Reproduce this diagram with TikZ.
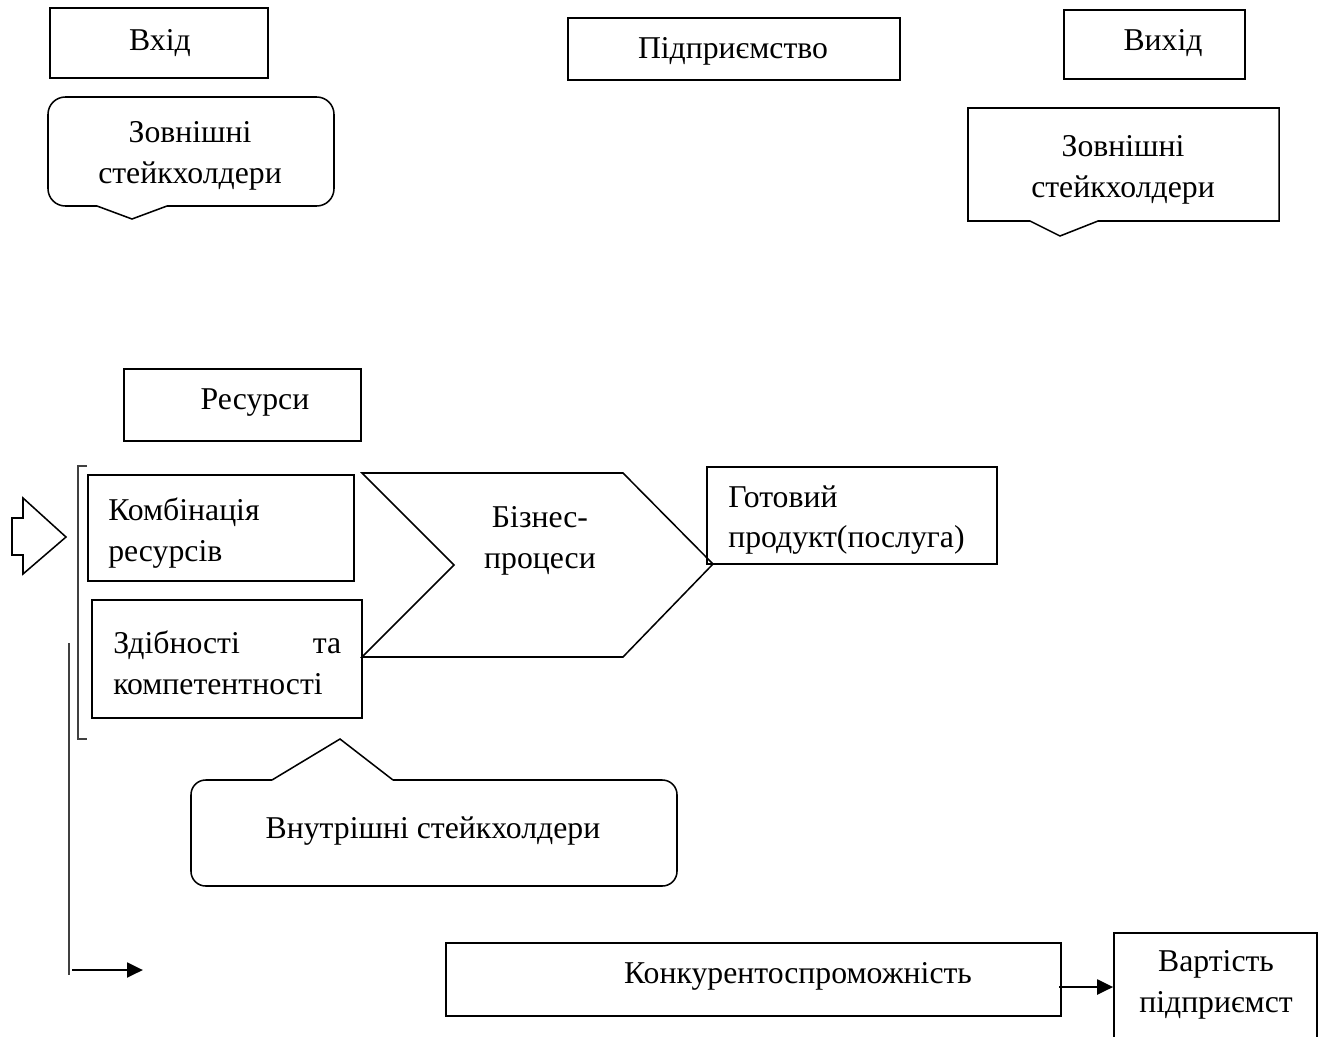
\documentclass[tikz,border=0pt]{standalone}
\usepackage{fontspec}
\setmainfont{Liberation Serif}
\usetikzlibrary{arrows.meta}
\begin{document}
\begin{tikzpicture}[x=0.75pt,y=-0.75pt,
  box/.style={draw,line width=1.15pt,inner sep=0pt},
  wh/.style 2 args={minimum width=#1*0.75pt,minimum height=#2*0.75pt},
  lbl/.style={font=\fontsize{23.8}{30.5}\selectfont,inner sep=0pt,align=center,yshift=-2.2pt},
  shp/.style={draw,line width=1.15pt,line join=miter},
  thinl/.style={draw,black!75,line width=0.8pt},
  arr/.style={line width=2.2pt,-{Triangle[length=12pt,width=11pt]}}]
\useasboundingbox (0,0) rectangle (1324,1036);

% top boxes
\node[box,wh={218}{70}] (vkhid) at (159,43) {};
\node[lbl] (vkhidt) at (160,40) {Вхід};
\node[box,wh={332}{62}] (pidpr) at (734,49) {};
\node[lbl] (pidprt) at (733,48) {Підприємство};
\node[box,wh={181}{69}] (vykhid) at (1154.5,44.5) {};
\node[lbl] (vykhidt) at (1163,40) {Вихід};

% left external stakeholders callout
\draw[shp,rounded corners=13pt] (167,206) -- (334,206) -- (334,97) -- (48,97) -- (48,206) -- (97,206);
\draw[shp] (97,206) -- (132,219) -- (167,206);
\node[lbl] (zovnl) at (190,153) {Зовнішні\\стейкхолдери};

% right external stakeholders callout
\draw[shp] (1030,221) -- (968,221) -- (968,108) -- (1279,108) -- (1279,221) -- (1098,221) -- (1060,236) -- cycle;
\node[lbl] (zovnr) at (1123,167) {Зовнішні\\стейкхолдери};

% resources
\node[box,wh={237}{72}] (res) at (242.5,405) {};
\node[lbl] (rest) at (255,400) {Ресурси};

% block arrow
\draw[shp,fill=white] (12,518) -- (23,518) -- (23,498) -- (66,537) -- (23,574) -- (23,555) -- (12,555) -- cycle;

% bracket
\draw[thinl] (87,466) -- (78,466) -- (78,739) -- (87,739);

% combination / abilities
\node[box,wh={266}{106}] (komb) at (221,528) {};
\node[lbl,anchor=west,align=left] (kombt) at (108,530) {Комбінація\\ресурсів};
\node[box,wh={270}{118}] (zdib) at (227,659) {};
\node[lbl,anchor=west,align=left,text width=171pt] (zdibt) at (113,660) {Здібності\hfill та\\компетентності};

% business processes chevron
\draw[shp] (362,473) -- (623,473) -- (713,564) -- (623,657) -- (362,657) -- (454,565) -- cycle;
\node[lbl] (biz) at (540,538) {Бізнес-\\процеси};

% finished product
\node[box,wh={290}{97}] (prod) at (852,515.5) {};
\node[lbl,anchor=west,align=left] (prodt) at (728,517) {Готовий\\продукт(послуга)};

% internal stakeholders callout
\draw[shp,rounded corners=11pt] (393,780) -- (677,780) -- (677,886) -- (191,886) -- (191,780) -- (272,780);
\draw[shp] (272,780) -- (340,739) -- (393,780);
\node[lbl] (vnutr) at (433,828) {Внутрішні стейкхолдери};

% long line and arrow at bottom left
\coordinate (vtop) at (69,643);
\coordinate (vbot) at (69,975);
\draw[thinl] (vtop) -- (vbot);
\coordinate (a1) at (72,970);
\coordinate (a2) at (143,970);
\draw[arr] (a1) -- (a2);

% competitiveness and value
\node[box,wh={615}{73}] (konk) at (753.5,979.5) {};
\node[lbl] (konkt) at (798,973) {Конкурентоспроможність};
\node[box,wh={203}{117}] (vart) at (1215.5,991.5) {};
\node[lbl] (vartt) at (1216,982) {Вартість\\підприємст};
\coordinate (ay) at (0,987);
\draw[arr] ([xshift=-2pt]konk.east |- ay) -- (vart.west |- ay);
\end{tikzpicture}
\end{document}
